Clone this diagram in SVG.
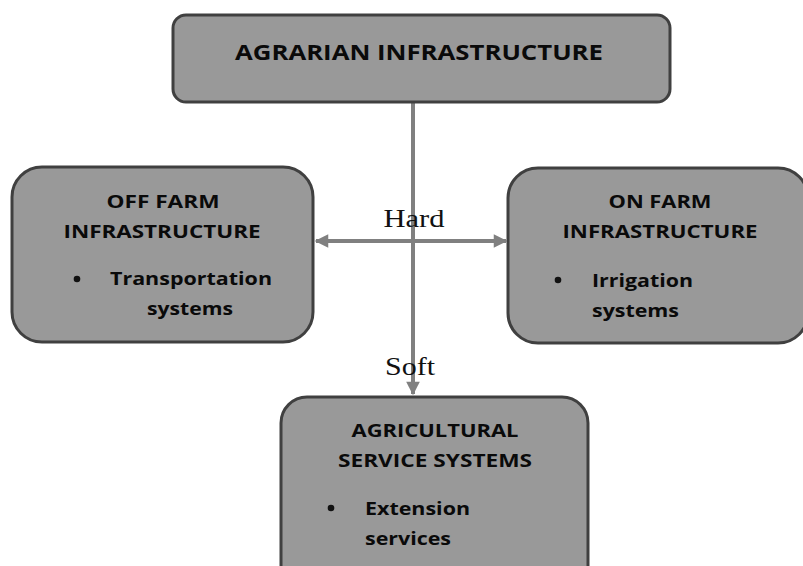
<svg xmlns="http://www.w3.org/2000/svg" width="803" height="566" viewBox="0 0 803 566">
<defs>
<style>
.box{fill:#999999;stroke:#404040;stroke-width:3}
.t{font-family:"Open Sans",Lato,"Liberation Sans",sans-serif;font-weight:700;fill:#0a0a0a;font-size:18px}
.lbl{font-family:"Liberation Serif","Times New Roman",serif;font-size:25px;fill:#111}
.conn{stroke:#808080;stroke-width:4;fill:none}
</style>
<marker id="ah" viewBox="0 0 10 10" refX="9" refY="5" markerWidth="4.2" markerHeight="3.4" markerUnits="strokeWidth" orient="auto-start-reverse">
<path d="M0,0 L10,5 L0,10 Z" fill="#808080"/>
</marker>
</defs>
<rect width="803" height="566" fill="#ffffff"/>
<g id="connectors">
<line class="conn" x1="413" y1="102" x2="413" y2="394" marker-end="url(#ah)"/>
<line class="conn" x1="316" y1="241" x2="506" y2="241" marker-start="url(#ah)" marker-end="url(#ah)"/>
<text class="lbl" x="414" y="227" text-anchor="middle" textLength="61" lengthAdjust="spacingAndGlyphs">Hard</text>
<text class="lbl" x="410" y="375" text-anchor="middle" textLength="50" lengthAdjust="spacingAndGlyphs">Soft</text>
</g>
<g id="agrarian">
<rect class="box" x="173" y="15" width="497" height="87" rx="13"/>
<text class="t" x="419" y="60" text-anchor="middle" style="font-size:22px" textLength="368" lengthAdjust="spacingAndGlyphs">AGRARIAN INFRASTRUCTURE</text>
</g>
<g id="offfarm">
<rect class="box" x="12" y="167" width="301" height="175" rx="30"/>
<text class="t" x="163" y="208" text-anchor="middle" textLength="113" lengthAdjust="spacingAndGlyphs">OFF FARM</text>
<text class="t" x="162" y="238" text-anchor="middle" textLength="197" lengthAdjust="spacingAndGlyphs">INFRASTRUCTURE</text>
<circle cx="77" cy="279" r="3.3" fill="#111"/>
<text class="t" x="110" y="285" textLength="162" lengthAdjust="spacingAndGlyphs">Transportation</text>
<text class="t" x="147" y="315" textLength="86" lengthAdjust="spacingAndGlyphs">systems</text>
</g>
<g id="onfarm">
<rect class="box" x="508" y="168" width="300" height="175" rx="30"/>
<text class="t" x="660" y="208" text-anchor="middle" textLength="103" lengthAdjust="spacingAndGlyphs">ON FARM</text>
<text class="t" x="660" y="238" text-anchor="middle" textLength="195" lengthAdjust="spacingAndGlyphs">INFRASTRUCTURE</text>
<circle cx="558" cy="280" r="3.3" fill="#111"/>
<text class="t" x="592" y="287" textLength="101" lengthAdjust="spacingAndGlyphs">Irrigation</text>
<text class="t" x="592" y="317" textLength="87" lengthAdjust="spacingAndGlyphs">systems</text>
</g>
<g id="agricultural">
<rect class="box" x="281" y="397" width="307" height="200" rx="26"/>
<text class="t" x="435" y="437" text-anchor="middle" textLength="167" lengthAdjust="spacingAndGlyphs">AGRICULTURAL</text>
<text class="t" x="435" y="467" text-anchor="middle" textLength="194" lengthAdjust="spacingAndGlyphs">SERVICE SYSTEMS</text>
<circle cx="331" cy="508" r="3.3" fill="#111"/>
<text class="t" x="365" y="515" textLength="105" lengthAdjust="spacingAndGlyphs">Extension</text>
<text class="t" x="365" y="545" textLength="86" lengthAdjust="spacingAndGlyphs">services</text>
</g>
</svg>
